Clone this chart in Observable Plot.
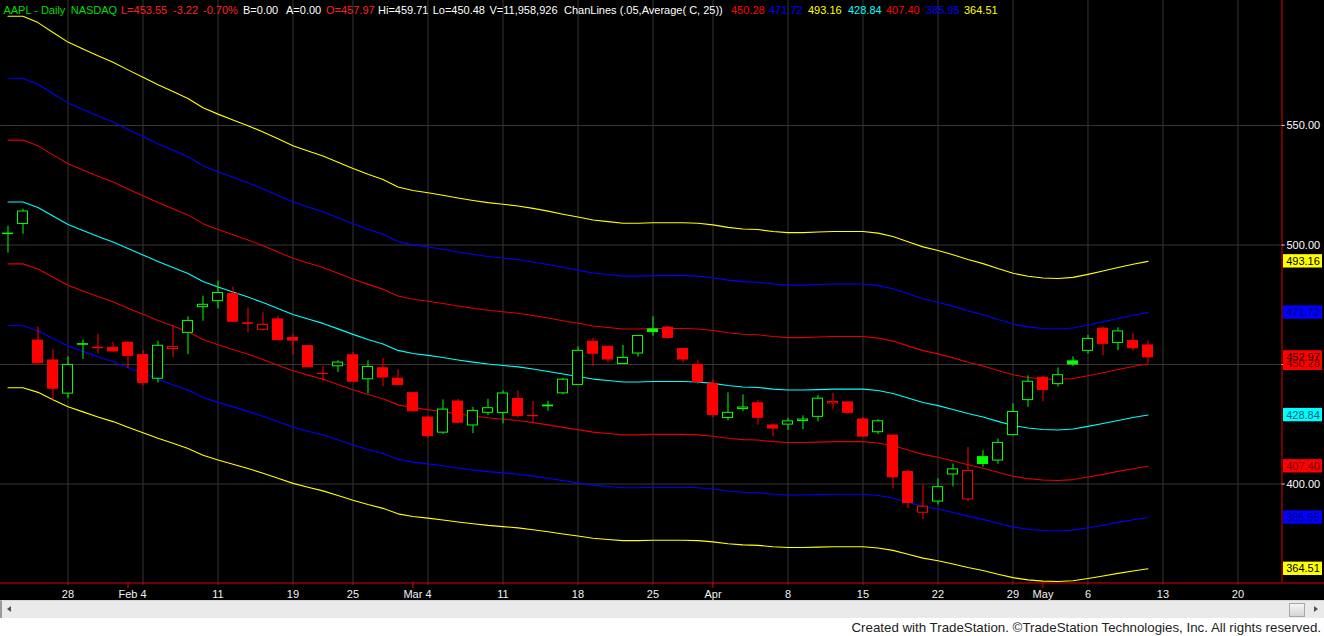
<!DOCTYPE html>
<html>
<head>
<meta charset="utf-8">
<script src="https://cdn.jsdelivr.net/npm/d3@7"></script>
<script src="https://cdn.jsdelivr.net/npm/@observablehq/plot@0.6"></script>
<style>
html, body { margin: 0; padding: 0; background: #fff; }
#wrap { position: relative; width: 1324px; height: 636px; overflow: hidden; font-family: "Liberation Sans", Arial, sans-serif; }
#chart { position: absolute; left: 0; top: 0; }
#header { position: absolute; left: 0; top: 0; width: 1281px; height: 20px; font-size: 11px; }
#header span { position: absolute; top: 3px; white-space: nowrap; line-height: 14px; }
#scroll { position: absolute; left: 0; top: 600px; width: 1324px; height: 18px; background: #eaeaea; border-top: 1px solid #d6d6d6; border-left: 2px solid #9a9a9a; box-sizing: border-box; }
#scroll .la { position: absolute; left: 5px; top: 5px; width: 0; height: 0; border-top: 3px solid transparent; border-bottom: 3px solid transparent; border-right: 4px solid #505050; }
#scroll .ra { position: absolute; left: 1312px; top: 5px; width: 0; height: 0; border-top: 3px solid transparent; border-bottom: 3px solid transparent; border-left: 4px solid #505050; }
#scroll .thumb { position: absolute; left: 1287px; top: 2px; width: 14px; height: 12px; border: 1px solid #a8a8a8; background: linear-gradient(#f6f6f6, #d4d4d4); }
#caption { position: absolute; right: 3px; top: 620px; font-size: 13.3px; color: #222; white-space: nowrap; }
</style>
</head>
<body>
<div id="wrap">
  <div id="chart"></div>
  <div id="header"></div>
  <div id="scroll"><div class="la"></div><div class="thumb"></div><div class="ra"></div></div>
  <div id="caption">Created with TradeStation. ©TradeStation Technologies, Inc. All rights reserved.</div>
</div>
<script>
// ---------------- data ----------------
const dates = [
  "2013-01-22","2013-01-23","2013-01-24","2013-01-25","2013-01-28","2013-01-29","2013-01-30","2013-01-31",
  "2013-02-01","2013-02-04","2013-02-05","2013-02-06","2013-02-07","2013-02-08","2013-02-11","2013-02-12","2013-02-13","2013-02-14","2013-02-15","2013-02-19","2013-02-20","2013-02-21","2013-02-22","2013-02-25","2013-02-26","2013-02-27","2013-02-28",
  "2013-03-01","2013-03-04","2013-03-05","2013-03-06","2013-03-07","2013-03-08","2013-03-11","2013-03-12","2013-03-13","2013-03-14","2013-03-15","2013-03-18","2013-03-19","2013-03-20","2013-03-21","2013-03-22","2013-03-25","2013-03-26","2013-03-27","2013-03-28",
  "2013-04-01","2013-04-02","2013-04-03","2013-04-04","2013-04-05","2013-04-08","2013-04-09","2013-04-10","2013-04-11","2013-04-12","2013-04-15","2013-04-16","2013-04-17","2013-04-18","2013-04-19","2013-04-22","2013-04-23","2013-04-24","2013-04-25","2013-04-26","2013-04-29","2013-04-30",
  "2013-05-01","2013-05-02","2013-05-03","2013-05-06","2013-05-07","2013-05-08","2013-05-09","2013-05-10"
];
// trading days after the last bar (empty space on the time axis)
const futureDates = ["2013-05-13","2013-05-14","2013-05-15","2013-05-16","2013-05-17","2013-05-20","2013-05-21","2013-05-22","2013-05-23","2013-05-24"];

const open = [504.56,508.81,460.00,451.69,437.83,458.50,457.00,456.98,459.11,453.91,
  444.05,456.47,463.25,474.00,476.50,479.51,467.21,464.52,468.85,461.10,
  457.69,446.00,449.25,453.85,443.82,448.43,444.05,438.00,427.80,421.48,
  434.51,424.50,429.80,429.75,435.60,428.45,432.83,437.93,441.45,459.50,
  457.42,450.22,454.60,464.69,465.44,456.46,449.82,441.90,427.60,431.37,
  433.76,424.50,424.85,426.36,428.10,433.72,434.15,427.00,421.66,420.27,
  404.99,387.97,392.64,403.99,393.54,411.23,409.81,420.45,435.10,444.46,
  441.78,451.31,455.71,464.97,459.04,459.81,457.97];
const high = [507.88,514.99,465.73,456.23,453.21,460.20,462.60,459.28,459.48,455.94,
  459.74,466.20,470.00,478.60,484.94,482.38,473.64,471.64,470.16,462.73,
  457.69,449.17,451.60,455.12,451.54,452.44,447.87,438.18,428.20,435.19,
  435.46,432.01,435.43,439.01,438.88,434.50,434.64,444.23,457.46,460.97,
  457.63,457.98,462.10,469.95,465.84,456.80,451.82,443.70,438.14,437.28,
  434.87,424.95,427.50,428.50,437.06,437.99,434.15,427.89,426.93,420.60,
  405.79,399.60,402.20,408.38,415.25,413.94,418.77,433.62,445.25,444.93,
  448.59,453.23,462.20,465.75,465.37,463.00,459.71];
const low = [496.63,504.50,450.25,435.00,435.86,452.12,454.50,454.98,448.35,441.00,
  442.22,452.85,454.12,468.10,473.25,467.74,463.22,464.02,459.92,453.85,
  448.80,442.82,446.60,442.57,437.66,440.65,441.40,429.98,419.00,420.75,
  425.10,421.06,428.61,425.14,427.57,425.36,430.45,437.25,441.20,449.10,
  450.59,450.10,453.11,461.78,460.53,450.73,441.62,427.74,426.40,430.31,
  424.57,419.68,422.49,422.75,426.01,431.20,429.09,419.55,420.75,398.11,
  389.74,385.10,391.27,398.81,392.50,407.00,408.25,420.00,432.07,434.39,
  440.63,449.15,454.31,453.70,455.81,455.58,450.48];
const close = [504.77,514.01,450.50,439.88,449.83,458.27,456.83,455.49,453.62,442.32,
  457.84,457.35,468.22,474.98,479.93,467.90,467.01,466.59,460.16,459.99,
  448.85,446.06,450.81,442.80,448.97,444.57,441.40,430.47,420.05,431.14,
  425.66,430.58,431.72,437.87,428.43,428.35,432.50,443.66,455.72,454.49,
  452.08,452.73,461.91,463.58,461.14,452.08,442.66,428.91,429.79,431.99,
  427.72,423.20,426.21,426.98,435.69,434.33,429.80,419.85,426.24,402.80,
  392.05,390.53,398.67,406.13,405.46,408.38,417.20,430.12,442.78,439.29,
  445.52,449.98,460.71,458.66,463.84,456.77,452.97];

// ChanLines centre: 25-day average of close
const chanCenter = [518.0,518.0,515.7,512.1,508.6,506.1,503.6,501.3,498.5,495.8,
  493.1,490.6,488.1,484.7,482.4,480.3,478.2,475.9,473.4,470.9,
  469.0,467.2,464.9,462.6,460.5,458.6,455.9,454.6,453.8,452.9,
  451.9,451.0,450.2,449.6,449.0,448.1,447.1,446.0,445.0,443.9,
  443.3,442.7,442.7,442.9,442.9,442.9,442.7,442.1,441.2,440.6,
  440.4,439.7,439.3,439.3,439.5,439.7,439.7,439.7,439.1,437.9,
  436.0,434.1,432.8,431.2,429.5,428.0,426.2,424.5,423.4,422.8,
  422.6,423.0,424.1,425.3,426.6,427.8,428.838];
// ChanLines(.05, Average(C,25)): bands at centre x (1 + k*0.05)
const chanFactors = [1.15, 1.10, 1.05, 1.00, 0.95, 0.90, 0.85];
// order in which the study values are listed in the header
const headerBandOrder = [2, 1, 0, 3, 4, 5, 6];

const gridPrices = [550, 500, 450, 400];
const priceLabels = [550, 500, 400]; // the 450.00 label is hidden behind the value boxes
const weekDates = ["2013-01-28","2013-02-04","2013-02-11","2013-02-19","2013-02-25","2013-03-04","2013-03-11","2013-03-18","2013-03-25","2013-04-01","2013-04-08","2013-04-15","2013-04-22","2013-04-29","2013-05-06","2013-05-13","2013-05-20"];
const monthDates = ["2013-02-01","2013-03-01","2013-04-01","2013-05-01"];
const tickDates  = ["2013-01-28","2013-02-04","2013-02-11","2013-02-19","2013-02-25","2013-03-04","2013-03-11","2013-03-18","2013-03-25","2013-04-01","2013-04-08","2013-04-15","2013-04-22","2013-04-29","2013-05-01","2013-05-06","2013-05-13","2013-05-20"];
const tickLabels = ["28","Feb 4","11","19","25","Mar 4","11","18","25","Apr","8","15","22","29","May","6","13","20"];

const headerParts = [
  {t: "AAPL - Daily", c: "green"}, {t: "NASDAQ", c: "green"},
  {t: "L=453.55", c: "red"}, {t: "-3.22", c: "red"}, {t: "-0.70%", c: "red"},
  {t: "B=0.00", c: "white"}, {t: "A=0.00", c: "white"}, {t: "O=457.97", c: "red"},
  {t: "Hi=459.71", c: "white"}, {t: "Lo=450.48", c: "white"}, {t: "V=11,958,926", c: "white"},
  {t: "ChanLines (.05,Average( C, 25))", c: "white"}
];

// ---------------- styles ----------------
const bandStroke = ["#ffff00", "#0000ff", "#e00000", "#00ffff", "#e00000", "#0000ff", "#ffff00"];
const headerValColor = ["#ffff00", "#0000ff", "#ff0000", "#00ffff", "#ff0000", "#0000ff", "#ffff00"];
const boxFill    = ["#ffff00", "#0000ff", "#ff0000", "#00ffff", "#ff0000", "#0000ff", "#ffff00"];
const boxText    = ["#000000", "#000070", "#700000", "#005a78", "#700000", "#000070", "#000000"];
const headerColor = {green: "#00dd00", red: "#ff2020", white: "#ffffff"};
const headerX = [3.4, 70.7, 121, 173, 203, 243, 286, 326, 378, 432.7, 489.5, 564];
const headerValX = [731, 769, 808, 848, 886, 926, 964];
const UP = "#00ff00", DOWN = "#ff0000";

// ---------------- build ----------------
const allDays = dates.concat(futureDates);
const dayIndex = d => allDays.indexOf(d);
const N = dates.length;
const last = N - 1;

const candles = d3.range(N).map(i => {
  const prev = i > 0 ? close[i - 1] : open[i];
  const col = close[i] >= prev ? UP : DOWN;
  return {i, o: open[i], h: high[i], l: low[i], c: close[i], col,
          fill: close[i] < open[i] ? col : "#000000"};
});

const bands = chanFactors.map((f, k) => ({k, rows: chanCenter.map((v, i) => ({i, v: v * f}))}));
const bandLast = chanFactors.map(f => chanCenter[last] * f);

// right-axis value boxes; the close box is drawn after the +5% band box
const boxes = [];
chanFactors.forEach((f, k) => {
  boxes.push({v: bandLast[k], fill: boxFill[k], text: boxText[k]});
  if (k === 2) boxes.push({v: close[last], fill: "#ff0000", text: "#200000"});
});

// frame geometry (in scale units)
const yTop = 602.301, yBot = 358.787, yAxisLine = 358.578, yTickEnd = 356.28, yGridEnd = 357.53;
const xLeft = -0.5, xRight = 87.7667, xAxisLine = 84.933;
const boxHalf = 2.8;

const ticks = tickDates.map((d, j) => ({x: dayIndex(d), label: tickLabels[j]}));
const monthLabel = t => /^[A-Z][a-z]+ \d+$/.test(t.label);

const chart = Plot.plot({
  width: 1324,
  height: 600,
  marginTop: 0, marginBottom: 18, marginLeft: 0, marginRight: 0,
  x: {type: "linear", domain: [xLeft, xRight], range: [0, 1324], axis: null},
  y: {type: "linear", domain: [yBot, yTop], range: [582, 0], axis: null},
  color: {type: "identity"},
  style: {background: "#000000", color: "#ffffff", fontFamily: "'Liberation Sans', Arial, sans-serif", overflow: "visible"},
  marks: [
    // grid
    Plot.ruleX(weekDates.map(dayIndex), {x: d => d, y1: yTop, y2: yGridEnd, stroke: "#353535", strokeWidth: 1}),
    Plot.ruleY(gridPrices, {y: d => d, x1: xLeft, x2: xAxisLine, stroke: "#353535", strokeWidth: 1}),
    // ChanLines
    ...bands.map(b => Plot.line(b.rows, {x: "i", y: "v", stroke: bandStroke[b.k], strokeWidth: 1.1})),
    // candles
    Plot.ruleX(candles, {x: "i", y1: "l", y2: "h", stroke: "col", strokeWidth: 1}),
    Plot.rect(candles, {x1: d => d.i - 1/3, x2: d => d.i + 1/3,
      y1: d => Math.min(d.o, d.c), y2: d => Math.max(d.o, d.c),
      fill: "fill", stroke: "col", strokeWidth: 1}),
    // axes lines
    Plot.ruleX([xAxisLine], {x: d => d, y1: yTop, y2: yBot, stroke: "#e00000", strokeWidth: 1}),
    Plot.ruleY([yAxisLine], {y: d => d, x1: xLeft, x2: xRight, stroke: "#e00000", strokeWidth: 1}),
    Plot.ruleX(monthDates.map(dayIndex), {x: d => d, y1: yAxisLine, y2: yTickEnd, stroke: "#e00000", strokeWidth: 1}),
    // right axis ticks & labels
    Plot.ruleY(gridPrices, {y: d => d, x1: xAxisLine, x2: xAxisLine + 0.22, stroke: "#cccccc"}),
    Plot.text(priceLabels, {x: 85.233, y: d => d, text: d => d.toFixed(2), textAnchor: "start", fill: "#ffffff", fontSize: 11}),
    // value boxes
    Plot.rect(boxes, {x1: 85.033, x2: 87.633, y1: d => d.v - boxHalf, y2: d => d.v + boxHalf, fill: "fill"}),
    Plot.text(boxes, {x: 86.333, y: "v", text: d => d.v.toFixed(2), fill: "text", fontSize: 11}),
    // bottom axis labels
    Plot.text(ticks.filter(t => !monthLabel(t)), {x: "x", y: yBot, dy: 12, text: "label", fill: "#f0f0f0", fontSize: 11}),
    Plot.text(ticks.filter(monthLabel), {x: "x", y: yBot, dy: 12, dx: -10.5, text: "label", fill: "#f0f0f0", fontSize: 11})
  ]
});
document.getElementById("chart").appendChild(chart);

// header line (real text, overlaid on the black chart area)
const header = document.getElementById("header");
headerParts.forEach((p, j) => {
  const s = document.createElement("span");
  s.textContent = p.t;
  s.style.left = headerX[j] + "px";
  s.style.color = headerColor[p.c];
  header.appendChild(s);
});
headerBandOrder.forEach((k, j) => {
  const s = document.createElement("span");
  s.textContent = bandLast[k].toFixed(2);
  s.style.left = headerValX[j] + "px";
  s.style.color = headerValColor[k];
  header.appendChild(s);
});
</script>
</body>
</html>
